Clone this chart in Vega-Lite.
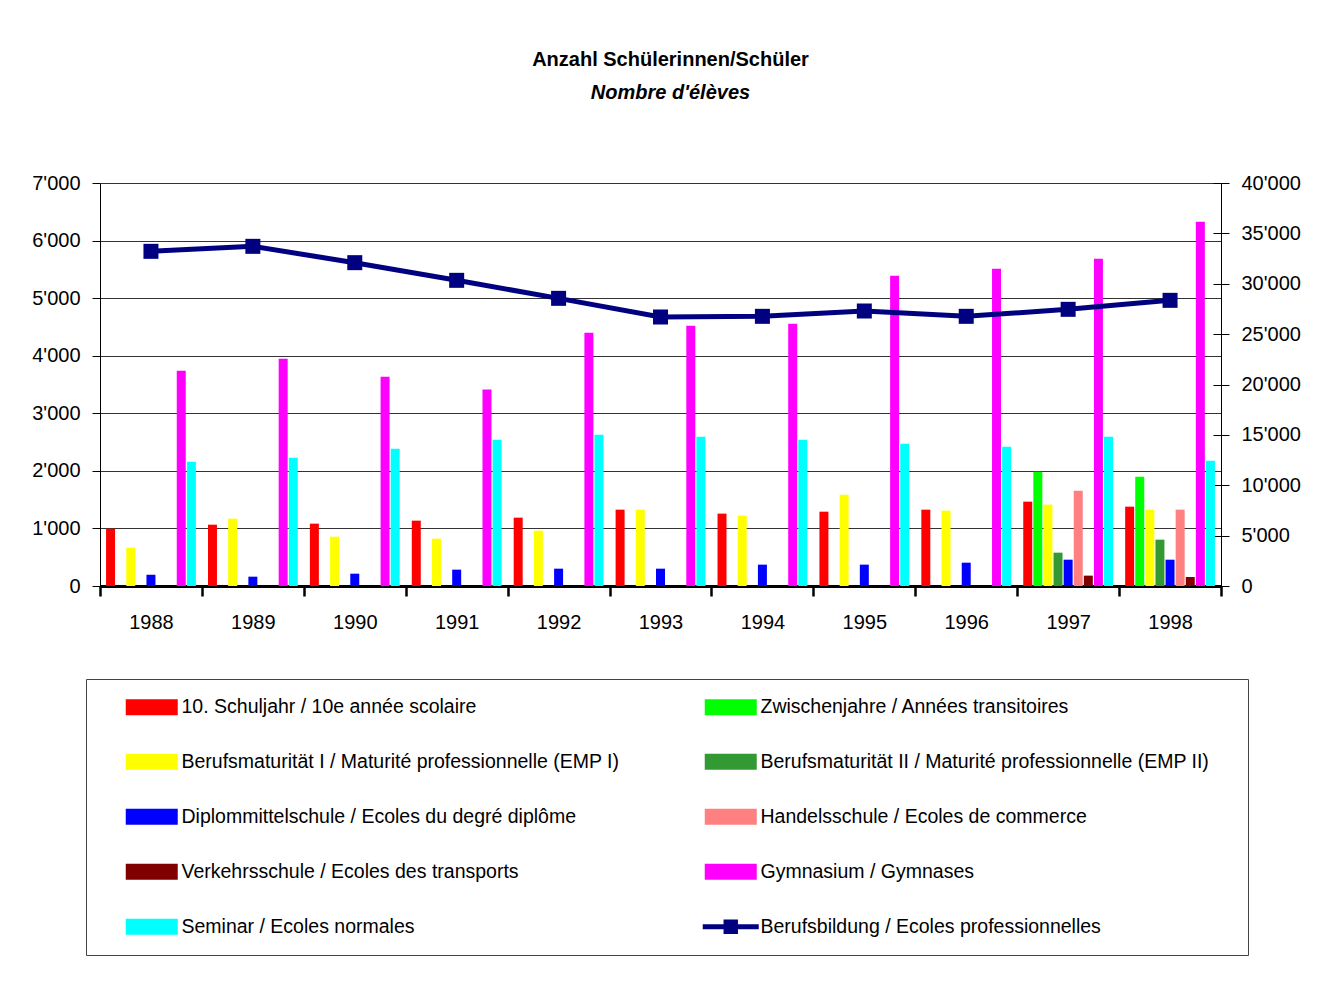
{
  "$schema": "https://vega.github.io/schema/vega-lite/v6.json",
  "width": 1121,
  "height": 403,
  "autosize": {"type": "none"},
  "padding": {"left": 100, "top": 183, "right": 120, "bottom": 401},
  "background": "white",
  "title": {
    "text": "Anzahl Schülerinnen/Schüler",
    "subtitle": "Nombre d'élèves",
    "font": "Liberation Sans",
    "fontSize": 20,
    "fontWeight": "bold",
    "color": "black",
    "subtitleFont": "Liberation Sans",
    "subtitleFontSize": 20,
    "subtitleFontStyle": "italic",
    "subtitleFontWeight": "bold",
    "subtitleColor": "black",
    "subtitlePadding": 13,
    "offset": 70,
    "dx": 10,
    "anchor": "middle"
  },
  "config": {
    "view": {"stroke": null},
    "font": "Liberation Sans"
  },
  "layer": [
    {
      "data": {
        "values": [
          {"Jahr": "1988", "Serie": "10. Schuljahr / 10e année scolaire", "Anzahl": 995},
          {"Jahr": "1988", "Serie": "Berufsmaturität I / Maturité professionnelle (EMP I)", "Anzahl": 666},
          {"Jahr": "1988", "Serie": "Diplommittelschule / Ecoles du degré diplôme", "Anzahl": 197},
          {"Jahr": "1988", "Serie": "Gymnasium / Gymnases", "Anzahl": 3741},
          {"Jahr": "1988", "Serie": "Seminar / Ecoles normales", "Anzahl": 2160},
          {"Jahr": "1989", "Serie": "10. Schuljahr / 10e année scolaire", "Anzahl": 1065},
          {"Jahr": "1989", "Serie": "Berufsmaturität I / Maturité professionnelle (EMP I)", "Anzahl": 1170},
          {"Jahr": "1989", "Serie": "Diplommittelschule / Ecoles du degré diplôme", "Anzahl": 162},
          {"Jahr": "1989", "Serie": "Gymnasium / Gymnases", "Anzahl": 3949},
          {"Jahr": "1989", "Serie": "Seminar / Ecoles normales", "Anzahl": 2229},
          {"Jahr": "1990", "Serie": "10. Schuljahr / 10e année scolaire", "Anzahl": 1083},
          {"Jahr": "1990", "Serie": "Berufsmaturität I / Maturité professionnelle (EMP I)", "Anzahl": 857},
          {"Jahr": "1990", "Serie": "Diplommittelschule / Ecoles du degré diplôme", "Anzahl": 214},
          {"Jahr": "1990", "Serie": "Gymnasium / Gymnases", "Anzahl": 3636},
          {"Jahr": "1990", "Serie": "Seminar / Ecoles normales", "Anzahl": 2386},
          {"Jahr": "1991", "Serie": "10. Schuljahr / 10e année scolaire", "Anzahl": 1135},
          {"Jahr": "1991", "Serie": "Berufsmaturität I / Maturité professionnelle (EMP I)", "Anzahl": 822},
          {"Jahr": "1991", "Serie": "Diplommittelschule / Ecoles du degré diplôme", "Anzahl": 284},
          {"Jahr": "1991", "Serie": "Gymnasium / Gymnases", "Anzahl": 3411},
          {"Jahr": "1991", "Serie": "Seminar / Ecoles normales", "Anzahl": 2542},
          {"Jahr": "1992", "Serie": "10. Schuljahr / 10e année scolaire", "Anzahl": 1187},
          {"Jahr": "1992", "Serie": "Berufsmaturität I / Maturité professionnelle (EMP I)", "Anzahl": 961},
          {"Jahr": "1992", "Serie": "Diplommittelschule / Ecoles du degré diplôme", "Anzahl": 301},
          {"Jahr": "1992", "Serie": "Gymnasium / Gymnases", "Anzahl": 4401},
          {"Jahr": "1992", "Serie": "Seminar / Ecoles normales", "Anzahl": 2629},
          {"Jahr": "1993", "Serie": "10. Schuljahr / 10e année scolaire", "Anzahl": 1326},
          {"Jahr": "1993", "Serie": "Berufsmaturität I / Maturité professionnelle (EMP I)", "Anzahl": 1326},
          {"Jahr": "1993", "Serie": "Diplommittelschule / Ecoles du degré diplôme", "Anzahl": 301},
          {"Jahr": "1993", "Serie": "Gymnasium / Gymnases", "Anzahl": 4522},
          {"Jahr": "1993", "Serie": "Seminar / Ecoles normales", "Anzahl": 2594},
          {"Jahr": "1994", "Serie": "10. Schuljahr / 10e année scolaire", "Anzahl": 1257},
          {"Jahr": "1994", "Serie": "Berufsmaturität I / Maturité professionnelle (EMP I)", "Anzahl": 1222},
          {"Jahr": "1994", "Serie": "Diplommittelschule / Ecoles du degré diplôme", "Anzahl": 371},
          {"Jahr": "1994", "Serie": "Gymnasium / Gymnases", "Anzahl": 4557},
          {"Jahr": "1994", "Serie": "Seminar / Ecoles normales", "Anzahl": 2542},
          {"Jahr": "1995", "Serie": "10. Schuljahr / 10e année scolaire", "Anzahl": 1291},
          {"Jahr": "1995", "Serie": "Berufsmaturität I / Maturité professionnelle (EMP I)", "Anzahl": 1587},
          {"Jahr": "1995", "Serie": "Diplommittelschule / Ecoles du degré diplôme", "Anzahl": 371},
          {"Jahr": "1995", "Serie": "Gymnasium / Gymnases", "Anzahl": 5391},
          {"Jahr": "1995", "Serie": "Seminar / Ecoles normales", "Anzahl": 2472},
          {"Jahr": "1996", "Serie": "10. Schuljahr / 10e année scolaire", "Anzahl": 1326},
          {"Jahr": "1996", "Serie": "Berufsmaturität I / Maturité professionnelle (EMP I)", "Anzahl": 1309},
          {"Jahr": "1996", "Serie": "Diplommittelschule / Ecoles du degré diplôme", "Anzahl": 405},
          {"Jahr": "1996", "Serie": "Gymnasium / Gymnases", "Anzahl": 5512},
          {"Jahr": "1996", "Serie": "Seminar / Ecoles normales", "Anzahl": 2420},
          {"Jahr": "1997", "Serie": "10. Schuljahr / 10e année scolaire", "Anzahl": 1465},
          {"Jahr": "1997", "Serie": "Zwischenjahre / Années transitoires", "Anzahl": 1986},
          {"Jahr": "1997", "Serie": "Berufsmaturität I / Maturité professionnelle (EMP I)", "Anzahl": 1413},
          {"Jahr": "1997", "Serie": "Berufsmaturität II / Maturité professionnelle (EMP II)", "Anzahl": 579},
          {"Jahr": "1997", "Serie": "Diplommittelschule / Ecoles du degré diplôme", "Anzahl": 457},
          {"Jahr": "1997", "Serie": "Handelsschule / Ecoles de commerce", "Anzahl": 1656},
          {"Jahr": "1997", "Serie": "Verkehrsschule / Ecoles des transports", "Anzahl": 180},
          {"Jahr": "1997", "Serie": "Gymnasium / Gymnases", "Anzahl": 5686},
          {"Jahr": "1997", "Serie": "Seminar / Ecoles normales", "Anzahl": 2594},
          {"Jahr": "1998", "Serie": "10. Schuljahr / 10e année scolaire", "Anzahl": 1378},
          {"Jahr": "1998", "Serie": "Zwischenjahre / Années transitoires", "Anzahl": 1899},
          {"Jahr": "1998", "Serie": "Berufsmaturität I / Maturité professionnelle (EMP I)", "Anzahl": 1326},
          {"Jahr": "1998", "Serie": "Berufsmaturität II / Maturité professionnelle (EMP II)", "Anzahl": 805},
          {"Jahr": "1998", "Serie": "Diplommittelschule / Ecoles du degré diplôme", "Anzahl": 457},
          {"Jahr": "1998", "Serie": "Handelsschule / Ecoles de commerce", "Anzahl": 1326},
          {"Jahr": "1998", "Serie": "Verkehrsschule / Ecoles des transports", "Anzahl": 156},
          {"Jahr": "1998", "Serie": "Gymnasium / Gymnases", "Anzahl": 6329},
          {"Jahr": "1998", "Serie": "Seminar / Ecoles normales", "Anzahl": 2177}
        ]
      },
      "mark": {"type": "bar"},
      "encoding": {
        "x": {
          "field": "Jahr",
          "type": "ordinal",
          "scale": {"paddingInner": 0, "paddingOuter": 0},
          "axis": {
            "orient": "bottom",
            "title": null,
            "tickBand": "extent",
            "tickSize": 10,
            "tickWidth": 2.5,
            "tickColor": "black",
            "domainColor": "black",
            "domainWidth": 3,
            "labelFontSize": 20,
            "labelColor": "black",
            "labelPadding": 16,
            "labelAngle": 0,
            "grid": false
          }
        },
        "xOffset": {
          "field": "Serie",
          "type": "nominal",
          "scale": {
            "domain": [
              "10. Schuljahr / 10e année scolaire",
              "Zwischenjahre / Années transitoires",
              "Berufsmaturität I / Maturité professionnelle (EMP I)",
              "Berufsmaturität II / Maturité professionnelle (EMP II)",
              "Diplommittelschule / Ecoles du degré diplôme",
              "Handelsschule / Ecoles de commerce",
              "Verkehrsschule / Ecoles des transports",
              "Gymnasium / Gymnases",
              "Seminar / Ecoles normales"
            ],
            "paddingInner": 0.11,
            "paddingOuter": 0.6
          }
        },
        "y": {
          "field": "Anzahl",
          "type": "quantitative",
          "scale": {"domain": [0, 7000], "nice": false},
          "axis": {
            "title": null,
            "values": [0, 1000, 2000, 3000, 4000, 5000, 6000, 7000],
            "tickSize": 8,
            "tickColor": "black",
            "domainColor": "black",
            "labelFontSize": 20,
            "labelColor": "black",
            "labelPadding": 12,
            "grid": true,
            "gridColor": "#333333",
            "labelExpr": "replace(format(datum.value, ','), ',', \"'\")"
          }
        },
        "color": {
          "field": "Serie",
          "type": "nominal",
          "scale": {
            "domain": [
              "10. Schuljahr / 10e année scolaire",
              "Zwischenjahre / Années transitoires",
              "Berufsmaturität I / Maturité professionnelle (EMP I)",
              "Berufsmaturität II / Maturité professionnelle (EMP II)",
              "Diplommittelschule / Ecoles du degré diplôme",
              "Handelsschule / Ecoles de commerce",
              "Verkehrsschule / Ecoles des transports",
              "Gymnasium / Gymnases",
              "Seminar / Ecoles normales",
              "Berufsbildung / Ecoles professionnelles"
            ],
            "range": ["#ff0000", "#00ff00", "#ffff00", "#339933", "#0000ff", "#ff8080", "#800000", "#ff00ff", "#00ffff", "#000080"]
          },
          "legend": {
            "orient": "none",
            "legendX": -14,
            "legendY": 496,
            "direction": "horizontal",
            "columns": 2,
            "title": "\u00a0",
            "titleOrient": "right",
            "titleFontSize": 10,
            "titlePadding": 21,
            "symbolType": "M-3.25,-1H3.25V1H-3.25Z",
            "symbolSize": 256,
            "symbolStrokeWidth": 0,
            "symbolOpacity": 1,
            "symbolOffset": 38,
            "labelOffset": 20,
            "labelFont": "Liberation Sans",
            "labelFontSize": 19.5,
            "labelColor": "black",
            "labelLimit": 700,
            "rowPadding": 34,
            "columnPadding": 63,
            "padding": 18,
            "strokeColor": "#444444",
            "encode": {
              "symbols": {
                "update": {
                  "shape": [
                    {"test": "datum.value === 'Berufsbildung / Ecoles professionnelles'", "value": "M-3.5,-0.3H3.5V0.3H-3.5Z M-0.9,-0.9H0.9V0.9H-0.9Z"},
                    {"value": "M-3.25,-1H3.25V1H-3.25Z"}
                  ]
                }
              }
            }
          }
        }
      }
    },
    {
      "data": {
        "values": [
          {"Jahr": "1988", "Berufsbildung": 33218},
          {"Jahr": "1989", "Berufsbildung": 33714},
          {"Jahr": "1990", "Berufsbildung": 32093},
          {"Jahr": "1991", "Berufsbildung": 30339},
          {"Jahr": "1992", "Berufsbildung": 28552},
          {"Jahr": "1993", "Berufsbildung": 26700},
          {"Jahr": "1994", "Berufsbildung": 26766},
          {"Jahr": "1995", "Berufsbildung": 27295},
          {"Jahr": "1996", "Berufsbildung": 26766},
          {"Jahr": "1997", "Berufsbildung": 27461},
          {"Jahr": "1998", "Berufsbildung": 28354}
        ]
      },
      "layer": [
        {
          "mark": {"type": "line", "color": "#000080", "strokeWidth": 5},
          "encoding": {
            "x": {
              "field": "Jahr",
              "type": "ordinal",
              "axis": {
                "orient": "bottom",
                "title": null,
                "tickBand": "extent",
                "tickSize": -9,
                "tickWidth": 2.5,
                "tickColor": "black",
                "domain": false,
                "labels": false,
                "grid": false
              }
            },
            "y": {
              "field": "Berufsbildung",
              "type": "quantitative",
              "scale": {"domain": [0, 40000], "nice": false},
              "axis": {
                "orient": "right",
                "title": null,
                "values": [0, 5000, 10000, 15000, 20000, 25000, 30000, 35000, 40000],
                "tickSize": 8,
                "tickColor": "black",
                "domainColor": "black",
                "labelFontSize": 20,
                "labelColor": "black",
                "labelPadding": 12,
                "grid": false,
                "labelExpr": "replace(format(datum.value, ','), ',', \"'\")"
              }
            }
          }
        },
        {
          "mark": {"type": "point", "shape": "square", "size": 225, "filled": true, "color": "#000080", "opacity": 1},
          "encoding": {
            "x": {"field": "Jahr", "type": "ordinal", "axis": null},
            "y": {
              "field": "Berufsbildung",
              "type": "quantitative",
              "scale": {"domain": [0, 40000], "nice": false},
              "axis": {
                "orient": "right",
                "title": null,
                "values": [0, 5000, 10000, 15000, 20000, 25000, 30000, 35000, 40000],
                "tickSize": -8,
                "tickColor": "black",
                "domain": false,
                "labels": false,
                "grid": false
              }
            }
          }
        }
      ],
      "resolve": {"axis": {"y": "independent"}}
    }
  ],
  "resolve": {"scale": {"y": "independent"}, "axis": {"x": "independent"}}
}
